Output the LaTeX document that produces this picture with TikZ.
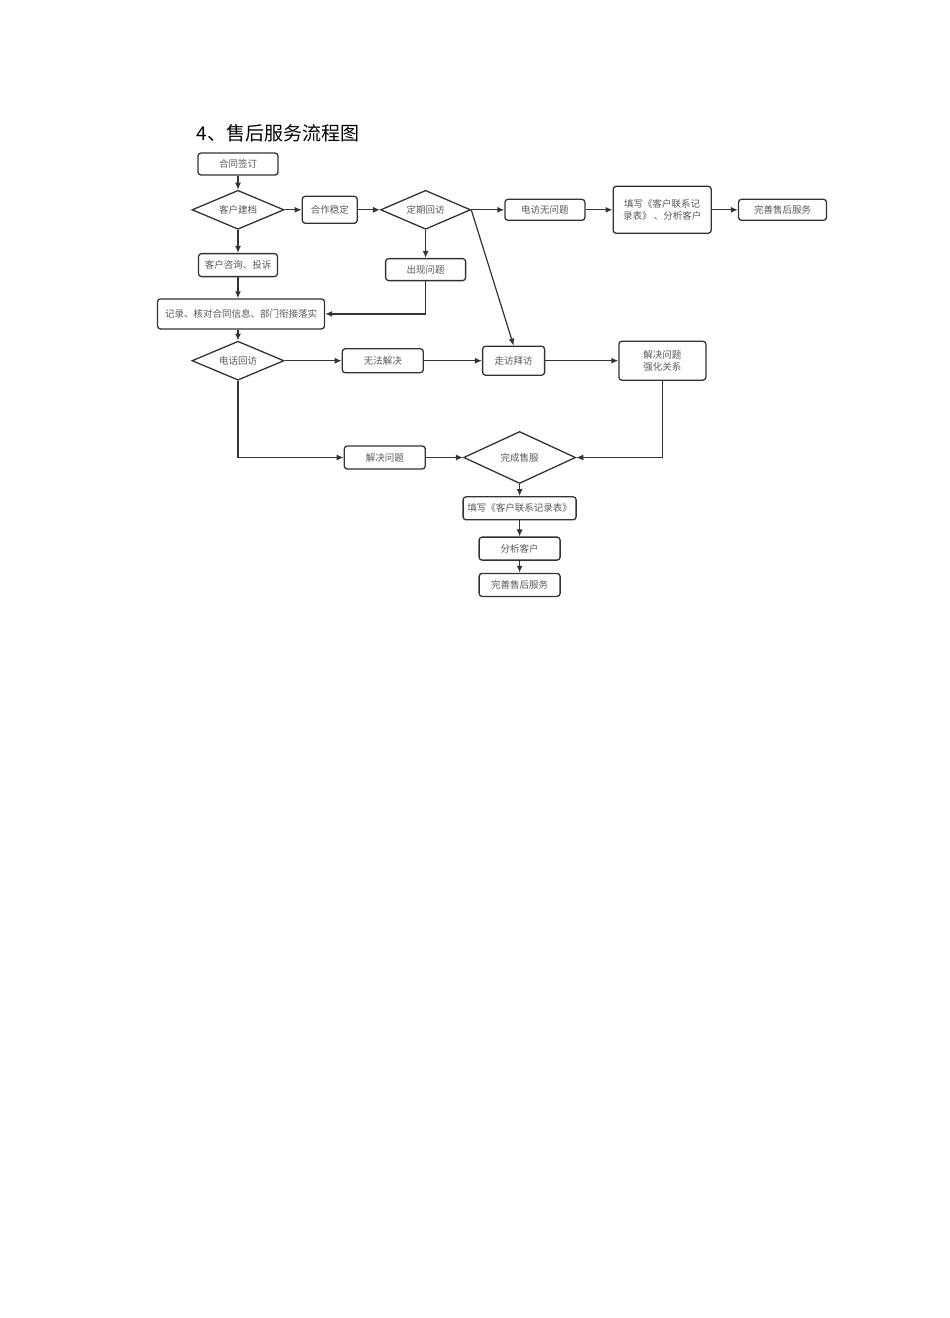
\documentclass[tikz,border=0pt]{standalone}
\usepackage{fontspec}
\setmainfont{Noto Sans CJK SC}
\usepackage{tikz}
\usetikzlibrary{positioning,arrows.meta,shapes.geometric}
\definecolor{flowline}{rgb}{0.2,0.2,0.2}
\definecolor{flowtext}{rgb}{0.35,0.35,0.35}

\begin{document}
\begin{tikzpicture}[
  x=1pt, y=-1pt,
  font=\fontsize{9.5}{12}\selectfont,
  box/.style={draw=flowline, line width=1.3pt, rounded corners=3pt, fill=white,
    text=flowtext, align=center, inner sep=0pt},
  choice/.style={draw=flowline, line width=1.3pt, diamond, aspect=2.3,
    inner sep=0pt, text=flowtext},
  arrow/.style={-{Latex[length=7pt,width=6pt]}, line width=1.2pt, draw=flowline}
]
\useasboundingbox (0,0) rectangle (950,1318);
\node[anchor=west, font=\fontsize{19}{22}\selectfont] (title) at (193,133) {4、售后服务流程图};

\node[box, minimum width=80pt, minimum height=22pt] (sign) at (238,164) {合同签订};
\node[choice, minimum width=92pt, minimum height=39pt, below=14pt of sign] (file) {客户建档};
\node[box, minimum width=55pt, minimum height=27pt, right=17pt of file] (stable) {合作稳定};
\node[choice, minimum width=90pt, minimum height=39pt, right=22pt of stable] (visit) {定期回访};
\node[box, minimum width=80pt, minimum height=21pt, right=33pt of visit] (phoneok) {电访无问题};
\node[box, minimum width=98pt, minimum height=47pt, right=27pt of phoneok] (record) {填写《客户联系记\\录表》 、分析客户};
\node[box, minimum width=88pt, minimum height=21pt, right=26pt of record] (doneup) {完善售后服务};
\node[box, minimum width=79pt, minimum height=23pt, below=23pt of file] (consult) {客户咨询、投诉};
\node[box, minimum width=80pt, minimum height=22pt, below=28pt of visit] (problem) {出现问题};
\node[box, minimum width=167pt, minimum height=30pt, below=21pt of consult, xshift=3pt] (log) {记录、核对合同信息、部门衔接落实};
\node[choice, minimum width=92pt, minimum height=39pt, below=11pt of log, xshift=-3pt] (callback) {电话回访};
\node[box, minimum width=81pt, minimum height=24pt, right=57pt of callback] (unsolved) {无法解决};
\node[box, minimum width=62pt, minimum height=29pt, right=58pt of unsolved] (onsite) {走访拜访};
\node[box, minimum width=87pt, minimum height=39pt, right=73pt of onsite] (bond) {解决问题\\强化关系};
\node[box, minimum width=81pt, minimum height=23pt, below=72pt of unsolved, xshift=2pt] (solve) {解决问题};
\node[choice, minimum width=112pt, minimum height=52pt, aspect=2.15, right=37pt of solve] (finish) {完成售服};
\node[box, minimum width=113pt, minimum height=23pt, below=12pt of finish] (form) {填写《客户联系记录表》};
\node[box, minimum width=81pt, minimum height=23pt, below=16pt of form] (analyze) {分析客户};
\node[box, minimum width=81pt, minimum height=23pt, below=12pt of analyze] (donedown) {完善售后服务};

% top row
\draw[arrow] (sign) -- (file);
\draw[arrow] (file) -- (stable);
\draw[arrow] (stable) -- (visit);
\draw[arrow] (visit) -- (phoneok);
\draw[arrow] (phoneok) -- (record);
\draw[arrow] (record) -- (doneup);
\draw[arrow] (visit.east) -- (onsite.north);

% problem found, back to the log
\draw[arrow] (visit) -- (problem);
\draw[arrow] (problem.south) |- (log.east);

% left column
\draw[arrow] (file) -- (consult);
\draw[arrow] (consult) -- (consult |- log.north);
\draw[arrow] (log.south -| callback) -- (callback);
\draw[arrow] (callback) -- (unsolved);
\draw[arrow] (unsolved) -- (onsite);
\draw[arrow] (onsite) -- (bond);

% both branches meet at the finish
\draw[arrow] (bond.south) |- (finish.east);
\draw[arrow] (callback.south) |- (solve.west);
\draw[arrow] (solve) -- (finish);
\draw[arrow] (finish) -- (form);
\draw[arrow] (form) -- (analyze);
\draw[arrow] (analyze) -- (donedown);
\end{tikzpicture}
\end{document}
